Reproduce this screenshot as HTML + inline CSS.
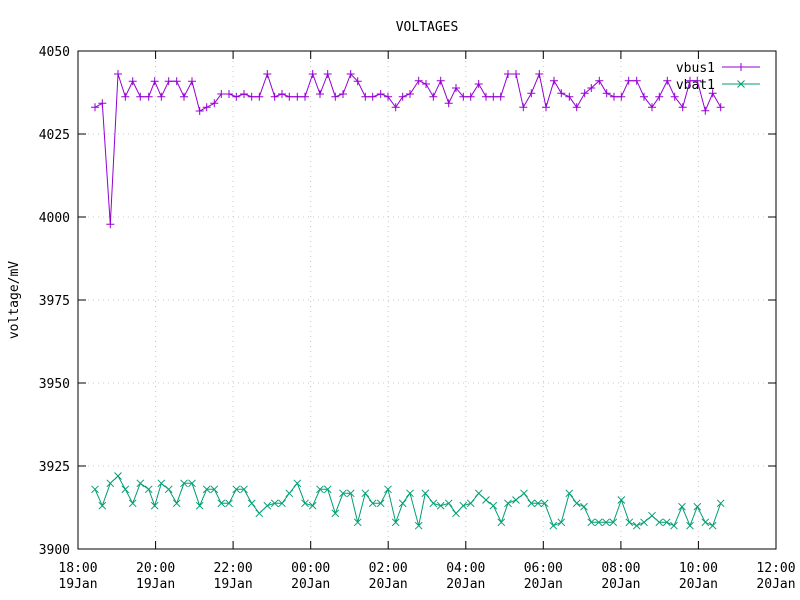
<!DOCTYPE html>
<html><head><meta charset="utf-8"><style>
html,body{margin:0;padding:0;background:#fff;}
svg{display:block;}
text{font-family:"DejaVu Sans Mono","Liberation Mono",monospace;font-size:13px;fill:#000;}
</style></head><body>
<svg width="800" height="600" xmlns="http://www.w3.org/2000/svg">
<defs>
<path id="p" d="M-4,0H4M0,-4V4" stroke="#9400d3" stroke-width="1"/>
<path id="x" d="M-3.5,-3.5L3.5,3.5M-3.5,3.5L3.5,-3.5" stroke="#009e73" stroke-width="1"/>
</defs>
<rect width="800" height="600" fill="#fff"/>
<g stroke="#c8c8c8" stroke-width="1" stroke-dasharray="1,4">
<path d="M78,134H776M78,217H776M78,300H776M78,383H776M78,466H776"/>
<path d="M155.6,51V549M233.1,51V549M310.7,51V549M388.2,51V549M465.8,51V549M543.3,51V549M620.9,51V549M698.4,51V549"/>
</g>
<rect x="78" y="51" width="698" height="498" fill="none" stroke="#000" stroke-width="1"/>
<g stroke="#000" stroke-width="1">
<path d="M78,51h8M78,134h8M78,217h8M78,300h8M78,383h8M78,466h8M78,549h8"/>
<path d="M776,51h-8M776,134h-8M776,217h-8M776,300h-8M776,383h-8M776,466h-8M776,549h-8"/>
<path d="M155.6,549v-8M233.1,549v-8M310.7,549v-8M388.2,549v-8M465.8,549v-8M543.3,549v-8M620.9,549v-8M698.4,549v-8"/>
<path d="M155.6,51v8M233.1,51v8M310.7,51v8M388.2,51v8M465.8,51v8M543.3,51v8M620.9,51v8M698.4,51v8"/>
</g>
<g text-anchor="end">
<text x="70" y="56">4050</text><text x="70" y="139">4025</text><text x="70" y="222">4000</text>
<text x="70" y="305">3975</text><text x="70" y="388">3950</text><text x="70" y="471">3925</text><text x="70" y="554">3900</text>
</g>
<g text-anchor="middle">
<text x="78" y="572">18:00</text><text x="78" y="588">19Jan</text>
<text x="155.6" y="572">20:00</text><text x="155.6" y="588">19Jan</text>
<text x="233.1" y="572">22:00</text><text x="233.1" y="588">19Jan</text>
<text x="310.7" y="572">00:00</text><text x="310.7" y="588">20Jan</text>
<text x="388.2" y="572">02:00</text><text x="388.2" y="588">20Jan</text>
<text x="465.8" y="572">04:00</text><text x="465.8" y="588">20Jan</text>
<text x="543.3" y="572">06:00</text><text x="543.3" y="588">20Jan</text>
<text x="620.9" y="572">08:00</text><text x="620.9" y="588">20Jan</text>
<text x="698.4" y="572">10:00</text><text x="698.4" y="588">20Jan</text>
<text x="776" y="572">12:00</text><text x="776" y="588">20Jan</text>
<text x="427" y="31">VOLTAGES</text>
<text transform="translate(18,300) rotate(-90)">voltage/mV</text>
</g>
<text x="715" y="72" text-anchor="end">vbus1</text>
<text x="715" y="89" text-anchor="end">vbat1</text>
<path d="M722,67H760" stroke="#9400d3"/><use href="#p" x="741" y="67"/>
<path d="M722,84H760" stroke="#009e73"/><use href="#x" x="741" y="84"/>
<g id="bus"></g><g id="bat"></g>
<script>
var bus=[[95,107.3],[102.3,103.3],[110.3,224.3],[118,74],[125.3,96.7],[132.7,81.3],[140.3,96.7],[148.7,96.7],[154.7,81.3],[161.3,96.7],[168.7,81.3],[176.7,81.3],[184,96.7],[192,81.3],[199.7,111],[206.7,107.3],[214.3,103.3],[221.3,94],[229,94],[236.3,96.7],[244,94],[251.7,96.7],[259.3,96.7],[267.3,74],[274.7,96.7],[282,94],[289.3,96.7],[297.3,96.7],[305,96.7],[312.7,74],[320,94],[327.7,74],[335.3,96.7],[343,94],[350.7,74],[357.7,81.3],[365.3,96.7],[372.7,96.7],[380.7,94],[388,96.7],[395.7,107.3],[402.7,96.7],[410,94],
[418.7,80.7],[426,84],[433.3,96.7],[440.7,80.7],[448.7,103.3],[456,88],[463.3,96.7],[470.7,96.7],[478.7,84],[486,96.7],[493.3,96.7],[500.7,96.7],[508,74],[516,74],[523.3,107.3],[531.3,93.3],[539.3,74],[546,107.3],[554,80.7],[561.3,93.3],[569.3,96.7],[576.7,107.3],[584.7,93.3],[591.3,88],[599.3,80.7],[606.7,93.3],[614,96.7],[621.3,96.7],[628.7,80.7],[636.7,80.7],[644,96.7],[652,107.3],[659.3,96.7],[667.3,80.7],[674.7,96.7],[682.7,107.3],[690,80.7],[697.3,80.7],[705.3,110.7],[712.7,93.3],[720.7,107.3]];
var bx=[95,102.3,110.3,118,125.3,132.7,140.3,148.7,154.7,161.3,168.7,176.7,184,192,199.7,206.7,214.3,221.3,229,236.3,244,251.7,259.3,267.3,274.7,282,289.3,297.3,305,312.7,320,327.7,335.3,343,350.7,357.7,365.3,372.7,380.7,388,395.7,402.7,410,418.7,425.3,433.3,440.7,448.7,456,463.3,470.7,478.7,486,493.3,501.3,508,516,524,531.3,538,544.7,553.3,561.3,569.3,576.7,584,591.3,598.7,606,613.3,621.3,629.3,636.7,644,652,659.3,666.7,674,682,690,697.3,705.3,712.7,720.7];
var by=[489.3,505.7,483.3,476,489.3,503.3,483.3,489.3,505.7,483.3,489.3,503.3,483.3,483.3,505.7,489.3,489.3,503.3,503.3,489.3,489.3,503.3,513.3,505.7,503.3,503.3,493.3,483.3,503.3,505.7,489.3,489.3,513.3,493.3,493.3,522.3,493.3,503.3,503.3,489.3,522.3,503.3,493.3,525.7,493.3,503.3,505.7,503.3,513.3,505.7,503.3,493.3,500,505.7,522.3,503.3,500,493.3,503.3,503.3,503.3,525.7,522.3,493.3,503.3,506.7,522.3,522.3,522.3,522.3,500,522.3,525.7,522.3,515.7,522.3,522.3,525.7,506.7,525.7,506.7,522.3,525.7,503.3];
var NS="http://www.w3.org/2000/svg";
function draw(g,pts,col,mk){var d="";pts.forEach(function(p,i){d+=(i?"L":"M")+p[0]+","+p[1];});
var pa=document.createElementNS(NS,"path");pa.setAttribute("d",d);pa.setAttribute("fill","none");pa.setAttribute("stroke",col);g.appendChild(pa);
pts.forEach(function(p){var u=document.createElementNS(NS,"use");u.setAttribute("href",mk);u.setAttribute("x",p[0]);u.setAttribute("y",p[1]);g.appendChild(u);});}
draw(document.getElementById("bus"),bus,"#9400d3","#p");
var bat=bx.map(function(x,i){return [x,by[i]];});
draw(document.getElementById("bat"),bat,"#009e73","#x");
</script>
</svg>
</body></html>
